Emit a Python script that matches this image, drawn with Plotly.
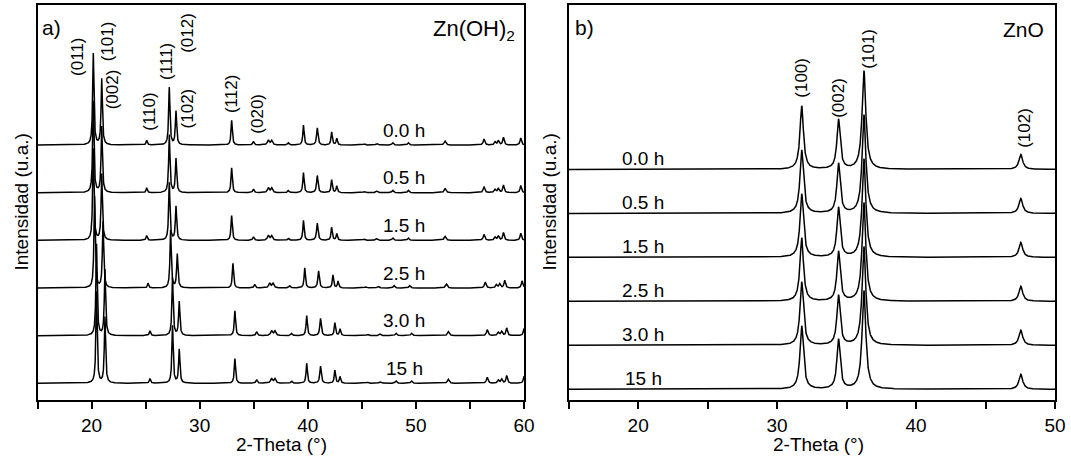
import numpy as np
import plotly.graph_objects as go

# ---------------- data ----------------
times = ["0.0 h", "0.5 h", "1.5 h", "2.5 h", "3.0 h", "15 h"]
offsets_a = [5, 4, 3, 2, 1, 0]          # vertical stacking, panel a
offsets_b = [5, 4, 3, 2, 1, 0]          # vertical stacking, panel b
shift_a = [0.0, 0.0, 0.0, 0.12, 0.30, 0.30]   # peak shift of each Zn(OH)2 pattern (deg)

# Zn(OH)2 reflections (0.0 h pattern): position (2-theta), height, half width
znoh_pos = [20.16, 20.94, 25.10, 27.19, 27.81, 32.96, 34.97, 36.35, 36.66, 38.20,
            39.60, 40.88, 42.21, 42.68, 45.23, 46.38, 47.86, 49.30, 52.70, 56.30,
            57.32, 57.63, 58.10, 59.70]
znoh_int = [1.92, 1.385, 0.10, 1.21, 0.71, 0.52, 0.075, 0.10, 0.095, 0.045,
            0.42, 0.36, 0.27, 0.14, 0.025, 0.035, 0.05, 0.05, 0.085, 0.125,
            0.065, 0.085, 0.16, 0.15]
znoh_hw = [0.07, 0.07, 0.07, 0.07, 0.07, 0.07, 0.08, 0.10, 0.10, 0.08,
           0.07, 0.08, 0.07, 0.07, 0.10, 0.10, 0.09, 0.09, 0.10, 0.09,
           0.09, 0.09, 0.08, 0.08]

# ZnO reflections
zno_pos = [31.77, 34.42, 36.25, 47.54]
zno_int = [1.44, 1.13, 2.24, 0.34]
zno_hw = [0.15, 0.14, 0.16, 0.16]

# hkl labels
hkl_a = ["(011)", "(101)", "(002)", "(110)", "(111)", "(012)", "(102)", "(112)", "(020)"]
hkl_a_x = [18.70, 21.48, 21.94, 25.41, 26.95, 28.80, 28.88, 32.90, 35.40]
hkl_a_y = [6.84, 7.17, 6.16, 5.70, 6.76, 7.35, 5.76, 6.07, 5.66]

hkl_b = ["(100)", "(002)", "(101)", "(102)"]
hkl_b_x = [31.77, 34.46, 36.55, 47.85]
hkl_b_y = [7.08, 6.63, 7.75, 5.95]

FONT = "Liberation Sans, Arial, sans-serif"


def pattern(x, pos, inten, hw, shift):
    y = np.zeros_like(x)
    for c, h, g in zip(pos, inten, hw):
        y += h * g * g / ((x - (c + shift)) ** 2 + g * g)
    return y


fig = go.Figure()

xa = np.arange(15.0, 60.0001, 0.01)
for t, off, s in zip(times, offsets_a, shift_a):
    fig.add_trace(go.Scatter(x=xa, y=off + pattern(xa, znoh_pos, znoh_int, znoh_hw, s),
                             mode="lines", line=dict(color="black", width=1.5),
                             xaxis="x", yaxis="y", showlegend=False, hoverinfo="skip"))

xb = np.arange(15.0, 50.0001, 0.01)
for t, off in zip(times, offsets_b):
    fig.add_trace(go.Scatter(x=xb, y=off + pattern(xb, zno_pos, zno_int, zno_hw, 0.0),
                             mode="lines", line=dict(color="black", width=1.5),
                             xaxis="x2", yaxis="y2", showlegend=False, hoverinfo="skip"))

W, H = 1071, 459
ann = []
# time labels
for t, off in zip(times, offsets_a):
    ann.append(dict(x=48.9, y=off + 0.31, xref="x", yref="y", text=t, showarrow=False,
                    font=dict(size=19, color="black", family=FONT), xanchor="center", yanchor="middle"))
for t, off in zip(times, offsets_b):
    ann.append(dict(x=20.37, y=off + 0.25, xref="x2", yref="y2", text=t, showarrow=False,
                    font=dict(size=19, color="black", family=FONT), xanchor="center", yanchor="middle"))
# hkl labels
for lab, x, y in zip(hkl_a, hkl_a_x, hkl_a_y):
    ann.append(dict(x=x, y=y, xref="x", yref="y", text=lab, textangle=-90, showarrow=False,
                    font=dict(size=17, color="black", family=FONT), xanchor="center", yanchor="middle"))
for lab, x, y in zip(hkl_b, hkl_b_x, hkl_b_y):
    ann.append(dict(x=x, y=y, xref="x2", yref="y2", text=lab, textangle=-90, showarrow=False,
                    font=dict(size=17, color="black", family=FONT), xanchor="center", yanchor="middle"))
# panel letters and compound names
ann += [
    dict(x=40 / W, y=1 - 27 / H, xref="paper", yref="paper", text="a)", showarrow=False,
         font=dict(size=21, color="black", family=FONT), xanchor="left", yanchor="middle"),
    dict(x=517 / W, y=1 - 30 / H, xref="paper", yref="paper", text="Zn(OH)<sub>2</sub>", showarrow=False,
         font=dict(size=22, color="black", family=FONT), xanchor="right", yanchor="middle"),
    dict(x=573 / W, y=1 - 27 / H, xref="paper", yref="paper", text="b)", showarrow=False,
         font=dict(size=21, color="black", family=FONT), xanchor="left", yanchor="middle"),
    dict(x=1046 / W, y=1 - 30 / H, xref="paper", yref="paper", text="ZnO", showarrow=False,
         font=dict(size=21, color="black", family=FONT), xanchor="right", yanchor="middle"),
    # axis titles
    dict(x=281 / W, y=1 - 444 / H, xref="paper", yref="paper", text="2-Theta (°)", showarrow=False,
         font=dict(size=19, color="black", family=FONT), xanchor="center", yanchor="middle"),
    dict(x=818 / W, y=1 - 444 / H, xref="paper", yref="paper", text="2-Theta (°)", showarrow=False,
         font=dict(size=19, color="black", family=FONT), xanchor="center", yanchor="middle"),
    dict(x=21.5 / W, y=1 - 202 / H, xref="paper", yref="paper", text="Intensidad (u.a.)", textangle=-90,
         showarrow=False, font=dict(size=19, color="black", family=FONT), xanchor="center", yanchor="middle"),
    dict(x=549.5 / W, y=1 - 202 / H, xref="paper", yref="paper", text="Intensidad (u.a.)", textangle=-90,
         showarrow=False, font=dict(size=19, color="black", family=FONT), xanchor="center", yanchor="middle"),
]

xaxis_common = dict(showline=True, mirror=True, linecolor="black", linewidth=2,
                    ticks="outside", ticklen=7, tickwidth=1.5, tickcolor="black",
                    tick0=0, dtick=10, showgrid=False, zeroline=False,
                    tickfont=dict(size=19, color="black", family=FONT),
                    minor=dict(ticks="outside", ticklen=7, tickwidth=1.5, tickcolor="black", dtick=5, tick0=0),
                    automargin=False)
yaxis_common = dict(showline=True, mirror=True, linecolor="black", linewidth=2,
                    ticks="", showticklabels=False, showgrid=False, zeroline=False, automargin=False)

ydom = [59 / H, 454 / H]
fig.update_layout(
    width=W, height=H, template="none",
    paper_bgcolor="white", plot_bgcolor="white",
    margin=dict(l=0, r=0, t=0, b=0),
    xaxis=dict(domain=[37.5 / W, 524 / W], range=[15, 60], anchor="y", **xaxis_common),
    yaxis=dict(domain=ydom, range=[-0.35, 7.94], anchor="x", **yaxis_common),
    xaxis2=dict(domain=[568.7 / W, 1055 / W], range=[15, 50], anchor="y2", **xaxis_common),
    yaxis2=dict(domain=ydom, range=[-0.244, 8.74], anchor="x2", **yaxis_common),
    annotations=ann,
    showlegend=False,
)

fig.write_html("out.html")
